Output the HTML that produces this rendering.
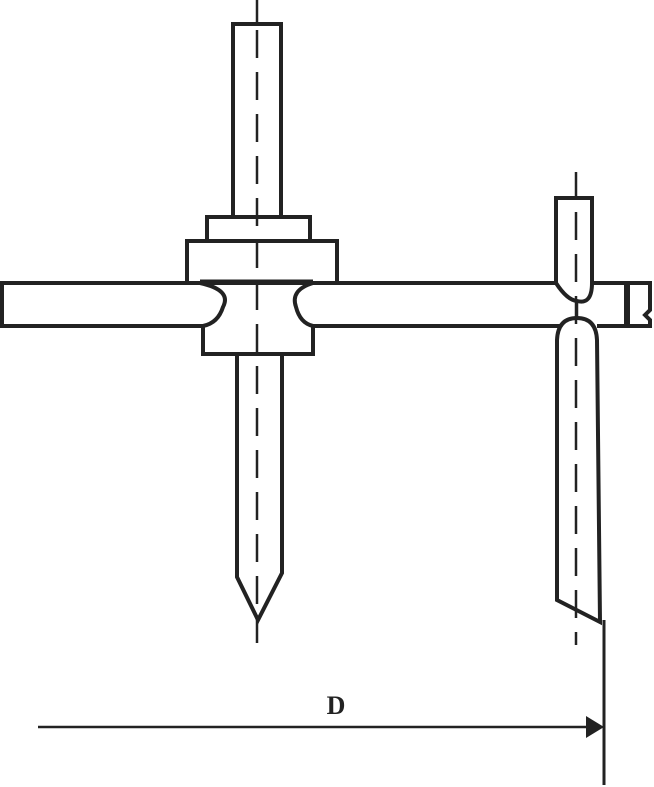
<!DOCTYPE html>
<html><head><style>body{margin:0;background:#fff}svg{display:block}</style></head><body>
<svg width="654" height="787" viewBox="0 0 654 787" xmlns="http://www.w3.org/2000/svg">
<g fill="none" stroke="#222" stroke-width="4" stroke-linejoin="miter">
<rect x="233" y="24" width="48" height="193" fill="#fff"/>
<rect x="207" y="217" width="103" height="24"/>
<rect x="187" y="241" width="150" height="42"/>
<path d="M200 283 H2 V326 H203"/>
<path d="M313 283 H556 M592 283 H625 M625 326 H597 M560 326 H313"/>
<path d="M200 283 Q232 290 223 307 Q218 323 203 326"/>
<path d="M313 283 Q290 290 296 307 Q300 323 313 326"/>
<path d="M203 326 V354 H313 V326"/>
<path d="M237 354 V577 L258 620 L282 573 V354"/>
<path d="M556 283 V198 H592 V283 Q592 305 577 301 Q567 300 556 283"/>
<path d="M557 600 V340 Q558 318 577 318 Q596 318 597 340 L600 622 Z"/>
<path d="M625 283 H650 V310 L645 315 L650 320 V326 H625"/>
</g>
<line x1="627" y1="283" x2="627" y2="326" stroke="#222" stroke-width="6"/>
<line x1="200" y1="282" x2="313" y2="282" stroke="#222" stroke-width="5"/>
<g stroke="#222" stroke-width="2.5">
<line x1="257" y1="0" x2="257" y2="24"/>
<line x1="257" y1="30" x2="257" y2="643" stroke-dasharray="28 14"/>
<line x1="576" y1="172" x2="576" y2="198"/>
<line x1="576" y1="212" x2="576" y2="645" stroke-dasharray="28 14"/>
<line x1="577" y1="300" x2="577" y2="318"/>
<line x1="604" y1="620" x2="604" y2="785" stroke-width="3"/>
<line x1="38" y1="727" x2="590" y2="727"/>
</g>
<polygon points="586,716 604,727 586,738" fill="#222"/>
<text x="336" y="714" font-family="Liberation Serif, serif" font-weight="bold" font-size="26" text-anchor="middle" fill="#222">D</text>
</svg>
</body></html>
